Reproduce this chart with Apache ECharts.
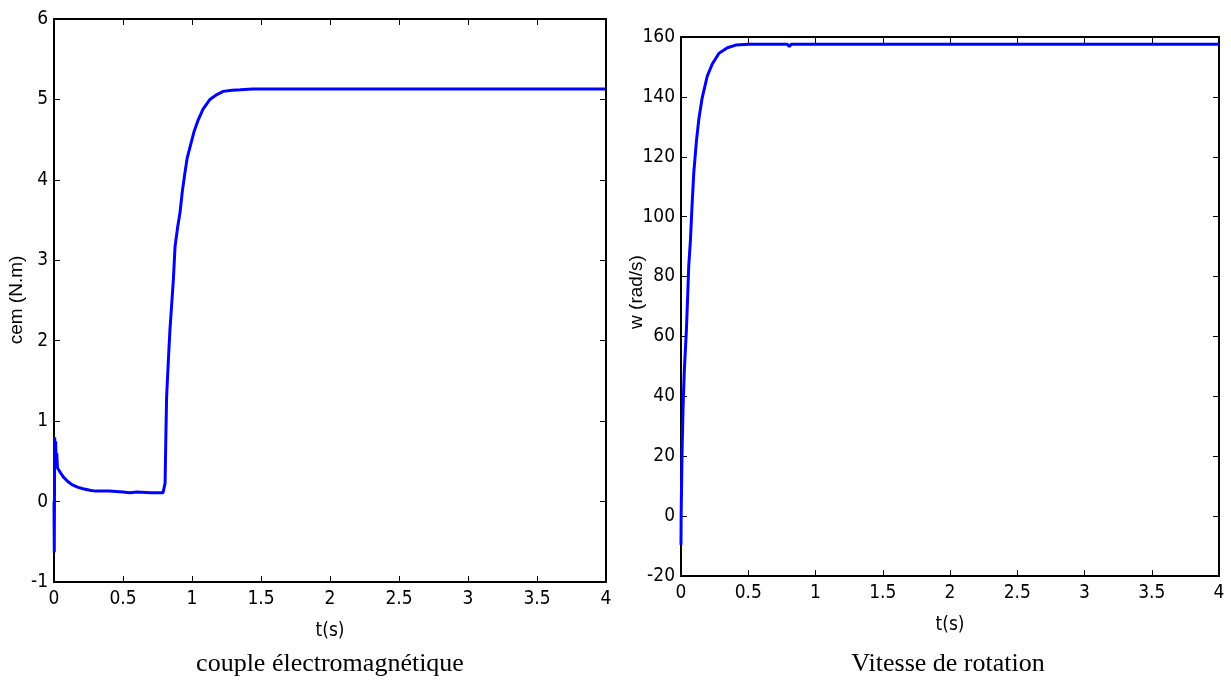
<!DOCTYPE html>
<html>
<head>
<meta charset="utf-8">
<script src="https://cdn.jsdelivr.net/npm/echarts@6/dist/echarts.min.js"></script>
<style>
html,body{margin:0;padding:0;background:#fff;}
#c{width:1231px;height:682px;}
</style>
</head>
<body>
<div id="c"></div>
<script>
// ---- data ----
const xTicks = [0, 0.5, 1, 1.5, 2, 2.5, 3, 3.5, 4];
const torqueT = [0, 0.002, 0.005, 0.008, 0.012, 0.016, 0.02, 0.025, 0.035, 0.05, 0.07, 0.1, 0.13, 0.17, 0.21, 0.26, 0.3, 0.4, 0.5, 0.55, 0.6, 0.7, 0.79, 0.8, 0.805, 0.81, 0.816, 0.83, 0.84, 0.865, 0.877, 0.895, 0.913, 0.93, 0.949, 0.965, 0.986, 1.015, 1.046, 1.08, 1.13, 1.18, 1.227, 1.29, 1.35, 1.44, 2, 3, 4];
const torqueV = [0, -0.63, 0.8, 0.55, 0.75, 0.45, 0.6, 0.42, 0.4, 0.35, 0.3, 0.25, 0.21, 0.18, 0.16, 0.14, 0.13, 0.13, 0.12, 0.11, 0.12, 0.11, 0.11, 0.13, 0.23, 0.75, 1.3, 1.8, 2.13, 2.76, 3.17, 3.4, 3.59, 3.86, 4.09, 4.27, 4.41, 4.6, 4.75, 4.88, 5.0, 5.06, 5.1, 5.115, 5.12, 5.13, 5.13, 5.13, 5.13];
const speedT = [0, 0.001, 0.0075, 0.015, 0.025, 0.04, 0.05, 0.0575, 0.07, 0.0825, 0.095, 0.115, 0.1325, 0.1575, 0.195, 0.2325, 0.2825, 0.345, 0.4075, 0.5, 0.79, 0.805, 0.82, 1, 2, 3, 4];
const speedV = [-9.6, 0, 20.3, 35.8, 49, 62, 74, 83.6, 92, 104, 114.6, 125.4, 132.5, 139.7, 146.9, 151, 154.6, 156.4, 157.3, 157.6, 157.6, 156.8, 157.6, 157.6, 157.6, 157.6, 157.6];
const torqueYTicks = [-1, 6, 1];
const speedYTicks = [-20, 160, 20];

const torqueData = torqueT.map((t, i) => [t, torqueV[i]]);
const speedData = speedT.map((t, i) => [t, speedV[i]]);

const sansN = "'Liberation Sans Narrow','DejaVu Sans Condensed','Liberation Sans',sans-serif";
const serif = "'Liberation Serif','Times New Roman',serif";

const grids = [
  {left: 54, right: 625, top: 19, bottom: 100},
  {left: 681, right: 12, top: 37, bottom: 106}
];

function xAx(g, pos, labels) {
  return {
    type: 'value', gridIndex: g, position: pos, min: 0, max: 4, interval: 0.5,
    axisLine: {show: true, onZero: false, lineStyle: {color: '#000', width: 2}},
    axisTick: {show: true, inside: true, length: 6, lineStyle: {color: '#000', width: 1}},
    axisLabel: {show: labels, color: '#000', fontFamily: sansN, fontSize: 19, margin: 8},
    splitLine: {show: false},
    name: labels ? 't(s)' : '', nameLocation: 'middle', nameGap: 40,
    nameTextStyle: {color: '#000', fontFamily: sansN, fontSize: 19}
  };
}
function yAx(g, pos, labels, tk) {
  return {
    type: 'value', gridIndex: g, position: pos, min: tk[0], max: tk[1], interval: tk[2],
    axisLine: {show: true, onZero: false, lineStyle: {color: '#000', width: 2}},
    axisTick: {show: true, inside: true, length: 6, lineStyle: {color: '#000', width: 1}},
    axisLabel: {show: labels, color: '#000', fontFamily: sansN, fontSize: 19, margin: 6},
    splitLine: {show: false}
  };
}

const chart = echarts.init(document.getElementById('c'), null, {renderer: 'canvas'});
chart.setOption({
  animation: false,
  backgroundColor: '#fff',
  grid: grids,
  xAxis: [xAx(0, 'bottom', true), xAx(0, 'top', false), xAx(1, 'bottom', true), xAx(1, 'top', false)],
  yAxis: [yAx(0, 'left', true, torqueYTicks), yAx(0, 'right', false, torqueYTicks), yAx(1, 'left', true, speedYTicks), yAx(1, 'right', false, speedYTicks)],
  title: [
    {text: 'couple électromagnétique', left: 330, top: 651, textAlign: 'center',
     textStyle: {fontFamily: serif, fontSize: 26, fontWeight: 'normal', color: '#000'}, padding: 0},
    {text: 'Vitesse de rotation', left: 948, top: 651, textAlign: 'center',
     textStyle: {fontFamily: serif, fontSize: 26, fontWeight: 'normal', color: '#000'}, padding: 0}
  ],
  graphic: [
    {type: 'text', x: 17, y: 300, rotation: Math.PI / 2,
     style: {text: 'cem (N.m)', font: "19px 'Liberation Sans', Arial, sans-serif", fill: '#000', align: 'center', verticalAlign: 'middle'}},
    {type: 'text', x: 637, y: 292, rotation: Math.PI / 2,
     style: {text: 'w (rad/s)', font: "19px 'Liberation Sans', Arial, sans-serif", fill: '#000', align: 'center', verticalAlign: 'middle'}}
  ],
  series: [
    {type: 'line', xAxisIndex: 0, yAxisIndex: 0, data: torqueData, showSymbol: false, symbol: 'none',
     lineStyle: {color: '#0000ff', width: 3}, smooth: false},
    {type: 'line', xAxisIndex: 2, yAxisIndex: 2, data: speedData, showSymbol: false, symbol: 'none',
     lineStyle: {color: '#0000ff', width: 3}, smooth: false}
  ]
});
</script>
</body>
</html>
